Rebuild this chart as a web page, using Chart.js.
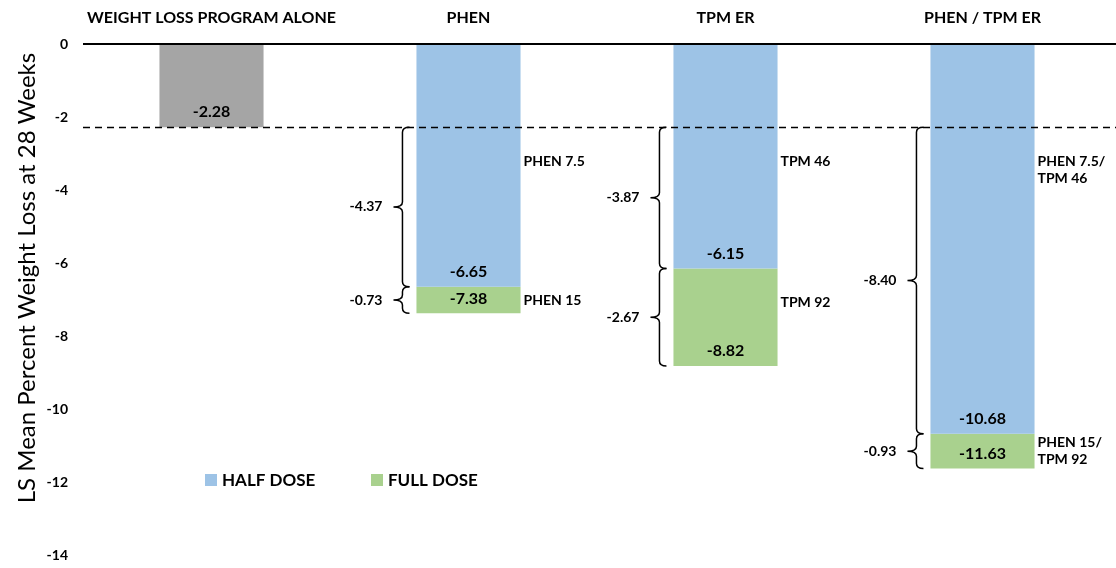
<!DOCTYPE html>
<html>
<head>
<meta charset="utf-8">
<script src="https://cdn.jsdelivr.net/npm/chart.js@4"></script>
<style>
  body { margin: 0; background: #fff; }
  #wrap { width: 1116px; height: 568px; position: relative; }
</style>
</head>
<body>
<div id="wrap"><canvas id="grafico"></canvas></div>
<script>
// categorias e valores (% de perda de peso, semana 28)
const categorias = ["WEIGHT LOSS PROGRAM ALONE", "PHEN", "TPM ER", "PHEN / TPM ER"];
const programaSozinho = [-2.28, null, null, null];
const meiaDose = [null, -6.65, -6.15, -10.68];
const doseCheia = [null, -7.38, -8.82, -11.63];
// diferencas mostradas nas chaves
const difMeia = [null, -4.37, -3.87, -8.40];
const difCheia = [null, -0.73, -2.67, -0.93];
// nomes das doses ao lado das barras
const nomesMeia = [null, ["PHEN 7.5"], ["TPM 46"], ["PHEN 7.5/", "TPM 46"]];
const nomesCheia = [null, ["PHEN 15"], ["TPM 92"], ["PHEN 15/", "TPM 92"]];
const ticksY = [0, -2, -4, -6, -8, -10, -12, -14];

const CINZA = "#a5a5a5";
const AZUL = "#9dc3e6";
const VERDE = "#a9d18e";
const FONTE = "Lato, 'Open Sans', sans-serif";

// desenha uma chave "{" vertical
function desenharChave(ctx, x, y1, y2) {
  const meio = (y1 + y2) / 2;
  const r = Math.min(5, (y2 - y1) / 4);
  ctx.beginPath();
  ctx.moveTo(x + 7, y1);
  ctx.quadraticCurveTo(x, y1, x, y1 + r);
  ctx.lineTo(x, meio - r);
  ctx.quadraticCurveTo(x, meio, x - 9, meio);
  ctx.moveTo(x - 9, meio);
  ctx.quadraticCurveTo(x, meio, x, meio + r);
  ctx.lineTo(x, y2 - r);
  ctx.quadraticCurveTo(x, y2, x + 7, y2);
  ctx.stroke();
}

const anotacoes = {
  id: "anotacoes",
  afterDatasetsDraw(chart) {
    const ctx = chart.ctx;
    const y = chart.scales.y;
    const area = chart.chartArea;
    const base = programaSozinho[0];
    ctx.save();

    // linha do zero
    ctx.strokeStyle = "#000";
    ctx.lineWidth = 2;
    ctx.beginPath();
    ctx.moveTo(area.left, y.getPixelForValue(0));
    ctx.lineTo(chart.width, y.getPixelForValue(0));
    ctx.stroke();

    // linha tracejada do programa sozinho
    const yBase = Math.round(y.getPixelForValue(base)) + 0.5;
    ctx.lineWidth = 1.5;
    ctx.setLineDash([7, 5]);
    ctx.beginPath();
    ctx.moveTo(area.left, yBase);
    ctx.lineTo(chart.width, yBase);
    ctx.stroke();
    ctx.setLineDash([]);

    // valores dentro das barras
    ctx.fillStyle = "#000";
    ctx.font = "bold 16px " + FONTE;
    ctx.textAlign = "center";
    ctx.textBaseline = "middle";
    chart.data.datasets.forEach((ds, d) => {
      chart.getDatasetMeta(d).data.forEach((el, i) => {
        const bruto = ds.data[i];
        if (bruto == null) return;
        const valor = Array.isArray(bruto) ? bruto[1] : bruto;
        const baixo = Math.max(el.y, el.base);
        ctx.fillText(valor.toFixed(2), el.x, baixo - 15);
      });
    });

    // chaves, diferencas e nomes das doses
    const barras = chart.getDatasetMeta(1).data;
    ctx.lineWidth = 1.5;
    ctx.strokeStyle = "#000";
    ctx.font = "bold 14px " + FONTE;
    for (let i = 0; i < categorias.length; i++) {
      if (meiaDose[i] == null) continue;
      const el = barras[i];
      const esq = el.x - el.width / 2;
      const dir = el.x + el.width / 2;
      const xChave = esq - 14;
      const trechos = [
        [base, meiaDose[i], difMeia[i], nomesMeia[i]],
        [meiaDose[i], doseCheia[i], difCheia[i], nomesCheia[i]],
      ];
      trechos.forEach(([de, ate, dif, nomes]) => {
        const y1 = y.getPixelForValue(de);
        const y2 = y.getPixelForValue(ate);
        desenharChave(ctx, xChave, y1, y2);
        ctx.textAlign = "right";
        ctx.fillText(dif.toFixed(2), xChave - 20, (y1 + y2) / 2);
        ctx.textAlign = "left";
        const y0 = Math.min(y1 + 34, (y1 + y2) / 2 - (nomes.length - 1) * 8.5);
        nomes.forEach((n, k) => ctx.fillText(n, dir + 3, y0 + k * 17));
      });
    }

    // legenda
    ctx.font = "bold 17px " + FONTE;
    ctx.textAlign = "left";
    const itens = [[chart.data.datasets[1].label, AZUL, 205], [chart.data.datasets[2].label, VERDE, 371]];
    itens.forEach(([txt, cor, x]) => {
      ctx.fillStyle = cor;
      ctx.fillRect(x, 474, 12, 12);
      ctx.fillStyle = "#000";
      ctx.fillText(txt, x + 17, 481);
    });

    // titulo do eixo y
    ctx.translate(27, 278);
    ctx.rotate(-Math.PI / 2);
    ctx.textAlign = "center";
    ctx.font = "24px " + FONTE;
    ctx.fillText("LS Mean Percent Weight Loss at 28 Weeks", 0, 0);
    ctx.restore();
  },
};

const ctx = document.getElementById("grafico").getContext("2d");
new Chart(ctx, {
  type: "bar",
  data: {
    labels: categorias,
    datasets: [
      { label: "WEIGHT LOSS PROGRAM ALONE", data: programaSozinho, backgroundColor: CINZA },
      { label: "HALF DOSE", data: meiaDose, backgroundColor: AZUL },
      {
        label: "FULL DOSE",
        data: doseCheia.map((v, i) => (v == null ? null : [meiaDose[i], v])),
        backgroundColor: VERDE,
      },
    ],
  },
  options: {
    responsive: true,
    maintainAspectRatio: false,
    animation: false,
    layout: { padding: { right: 5, bottom: 13 } },
    datasets: { bar: { grouped: false, barPercentage: 1, categoryPercentage: 0.405 } },
    plugins: { legend: { display: false }, tooltip: { enabled: false } },
    scales: {
      x: {
        position: "top",
        grid: { display: false, drawTicks: false },
        border: { display: false },
        ticks: { color: "#000", font: { family: FONTE, size: 16, weight: "bold" }, padding: 17, maxRotation: 0 },
        afterFit: (s) => { s.height = 44; },
      },
      y: {
        min: -14,
        max: 0,
        grid: { display: false, drawTicks: false },
        border: { display: false },
        afterBuildTicks: (s) => { s.ticks = ticksY.map((v) => ({ value: v })); },
        ticks: { color: "#000", font: { family: FONTE, size: 14, weight: "bold" }, padding: 15 },
        afterFit: (s) => {
          s.width = 83;
          s.paddingTop = 0;
          s.paddingBottom = 0;
        },
      },
    },
  },
  plugins: [anotacoes],
});
</script>
</body>
</html>
